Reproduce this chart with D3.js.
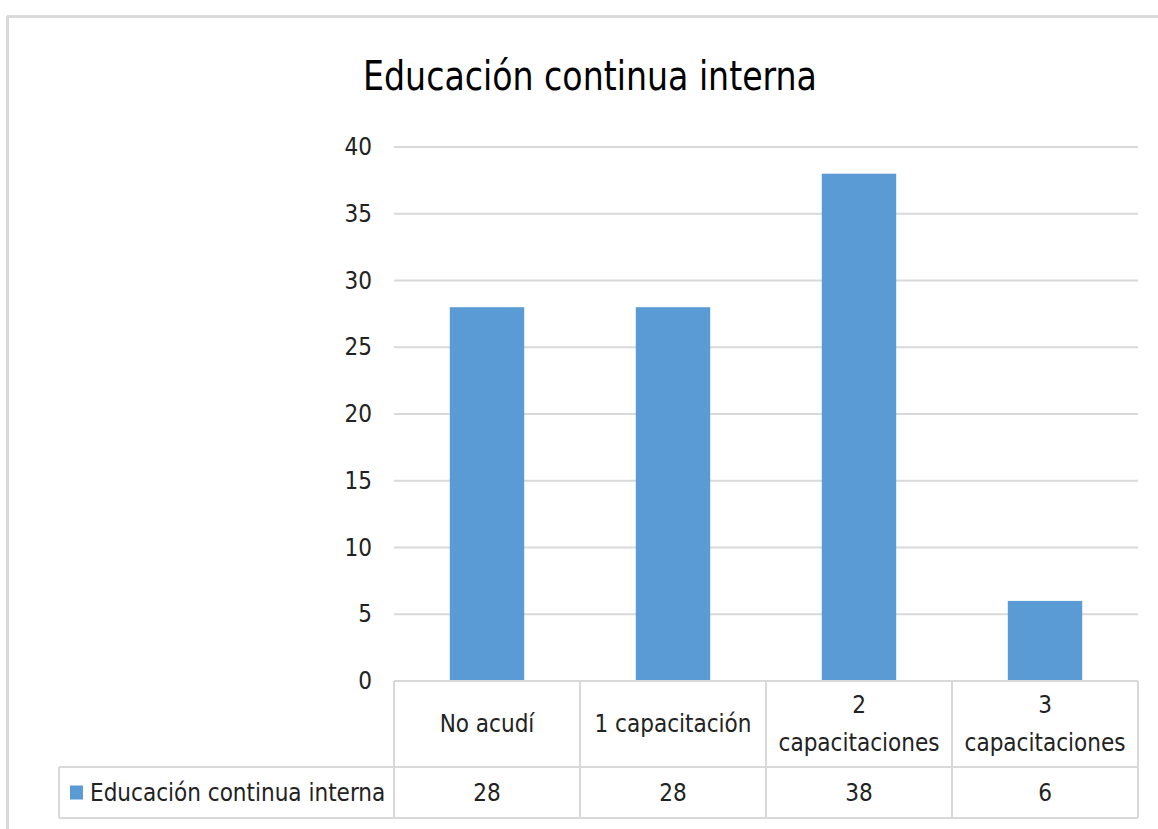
<!DOCTYPE html>
<html>
<head>
<meta charset="utf-8">
<script src="https://cdn.jsdelivr.net/npm/d3@7"></script>
<style>
  body { margin: 0; background: #fff; }
  svg { display: block; }
</style>
</head>
<body>
<script>
// Chart data
const title = "Educación continua interna";
const seriesName = "Educación continua interna";
const categories = ["No acudí", "1 capacitación", "2 capacitaciones", "3 capacitaciones"];
const categoryLines = [["No acudí"], ["1 capacitación"], ["2", "capacitaciones"], ["3", "capacitaciones"]];
const values = [28, 28, 38, 6];
const yTicks = [0, 5, 10, 15, 20, 25, 30, 35, 40];

const width = 1158, height = 829;
const margin = { top: 147, right: 20, bottom: 148, left: 394 };
const font = "'Liberation Sans Narrow', 'DejaVu Sans Condensed', sans-serif";
const barColor = "#5b9bd5";
const lineColor = "#d9d9d9";

const svg = d3.select("body").append("svg")
    .attr("width", width)
    .attr("height", height)
    .style("font-family", font);

// Outer chart border (only top and left visible in the crop)
svg.append("line")
    .attr("x1", 7).attr("x2", width).attr("y1", 16.5).attr("y2", 16.5)
    .attr("stroke", "#d9d9d9").attr("stroke-width", 3);
svg.append("line")
    .attr("x1", 7.5).attr("x2", 7.5).attr("y1", 16).attr("y2", height)
    .attr("stroke", "#d9d9d9").attr("stroke-width", 3);

const plotW = width - margin.left - margin.right;
const plotH = height - margin.top - margin.bottom;

const x = d3.scaleBand()
    .domain(categories)
    .range([0, plotW])
    .paddingInner(0.6)
    .paddingOuter(0.3);

const xCell = d3.scaleBand()
    .domain(categories)
    .range([0, plotW]);

const y = d3.scaleLinear()
    .domain([0, 40])
    .range([plotH, 0]);

const g = svg.append("g")
    .attr("transform", `translate(${margin.left},${margin.top})`);

// Title (slightly condensed to match the narrow face of the original)
svg.append("text")
    .attr("transform", "translate(590,90) scale(0.9,1)")
    .attr("text-anchor", "middle")
    .attr("font-size", "41px")
    .attr("fill", "#000")
    .text(title);

// Gridlines
g.append("g")
    .selectAll("line")
    .data(yTicks.filter(d => d > 0))
    .join("line")
    .attr("x1", 0).attr("x2", plotW)
    .attr("y1", d => y(d)).attr("y2", d => y(d))
    .attr("stroke", lineColor)
    .attr("stroke-width", 2);

// Y axis labels
const yAxis = d3.axisLeft(y).tickValues(yTicks).tickSize(0).tickPadding(22);
g.append("g")
    .call(yAxis)
    .call(a => a.select(".domain").remove())
    .call(a => a.selectAll("text")
        .attr("font-size", "24px")
        .attr("font-family", font)
        .attr("fill", "#222"));

// Bars
g.append("g")
    .selectAll("rect")
    .data(values)
    .join("rect")
    .attr("x", (d, i) => x(categories[i]))
    .attr("y", d => y(d))
    .attr("width", x.bandwidth())
    .attr("height", d => y(0) - y(d))
    .attr("fill", barColor);

// Data table
const row1 = 86, row2 = 51;
const legendLeft = 59 - margin.left;
const table = g.append("g").attr("transform", `translate(0,${plotH})`);
const tl = table.append("g")
    .attr("stroke", lineColor)
    .attr("stroke-width", 2);

tl.append("line").attr("x1", 0).attr("x2", plotW).attr("y1", 0).attr("y2", 0);
tl.append("line").attr("x1", legendLeft).attr("x2", plotW).attr("y1", row1).attr("y2", row1);
tl.append("line").attr("x1", legendLeft).attr("x2", plotW).attr("y1", row1 + row2).attr("y2", row1 + row2);
tl.append("line").attr("x1", legendLeft).attr("x2", legendLeft).attr("y1", row1).attr("y2", row1 + row2);
tl.selectAll(".v")
    .data(categories.concat(["end"]))
    .join("line")
    .attr("x1", (d, i) => i < categories.length ? xCell(d) : plotW)
    .attr("x2", (d, i) => i < categories.length ? xCell(d) : plotW)
    .attr("y1", 0).attr("y2", row1 + row2);

// Category labels
const catText = table.append("g")
    .selectAll("text")
    .data(categoryLines)
    .join("text")
    .attr("text-anchor", "middle")
    .attr("font-size", "24px")
    .attr("fill", "#222")
    .attr("transform", (d, i) => `translate(${xCell(categories[i]) + xCell.bandwidth() / 2},${row1 / 2})`);
catText.selectAll("tspan")
    .data(d => d.map((t, j) => ({ t, j, n: d.length })))
    .join("tspan")
    .attr("x", 0)
    .attr("y", d => (d.j - (d.n - 1) / 2) * 38)
    .attr("dy", "0.35em")
    .text(d => d.t);

// Values row
table.append("g")
    .selectAll("text")
    .data(values)
    .join("text")
    .attr("x", (d, i) => xCell(categories[i]) + xCell.bandwidth() / 2)
    .attr("y", row1 + row2 / 2)
    .attr("dy", "0.35em")
    .attr("text-anchor", "middle")
    .attr("font-size", "24px")
    .attr("fill", "#222")
    .text(d => d);

// Legend key in table
table.append("rect")
    .attr("x", legendLeft + 11)
    .attr("y", row1 + row2 / 2 - 7)
    .attr("width", 13)
    .attr("height", 14)
    .attr("fill", barColor);
table.append("text")
    .attr("x", legendLeft + 31)
    .attr("y", row1 + row2 / 2)
    .attr("dy", "0.35em")
    .attr("font-size", "24px")
    .attr("fill", "#222")
    .text(seriesName);
</script>
</body>
</html>
